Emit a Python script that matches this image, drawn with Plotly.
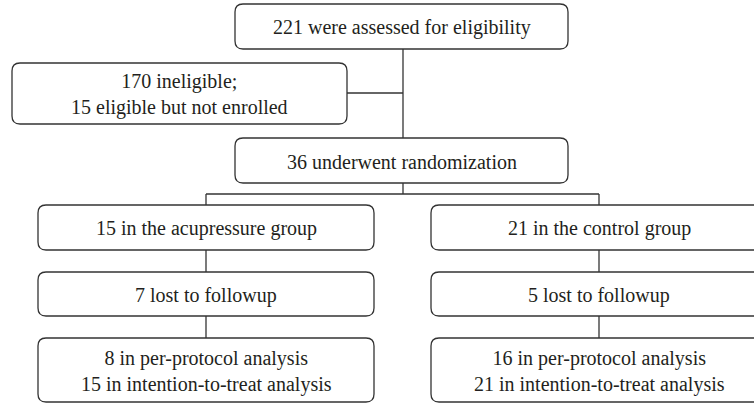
import plotly.graph_objects as go

# Flowchart content
box_labels = [
    "221 were assessed for eligibility",
    "170 ineligible;<br>15 eligible but not enrolled",
    "36 underwent randomization",
    "15 in the acupressure group",
    "21 in the control group",
    "7 lost to followup",
    "5 lost to followup",
    "8 in per-protocol analysis<br>15 in intention-to-treat analysis",
    "16 in per-protocol analysis<br>21 in intention-to-treat analysis",
]

# Box geometry (x0, x1, y0, y1) in pixel-like data coordinates
box_geom = [
    (235, 568, 4, 49),
    (12, 347, 63, 124),
    (235, 568, 138, 183),
    (38, 374, 205, 250),
    (431, 767, 205, 250),
    (38, 374, 272, 316),
    (431, 767, 272, 316),
    (38, 374, 338, 402),
    (431, 767, 338, 402),
]

# Connectors (x0, y0, x1, y1)
connectors = [
    (403, 49, 403, 138),
    (347, 93, 403, 93),
    (403, 183, 403, 194),
    (206, 194, 599, 194),
    (206, 194, 206, 205),
    (599, 194, 599, 205),
    (206, 250, 206, 272),
    (599, 250, 599, 272),
    (206, 316, 206, 338),
    (599, 316, 599, 338),
]

LINE = "#333333"
R = 8


def rounded(x0, x1, y0, y1, r=R):
    return (f"M {x0+r},{y0} L {x1-r},{y0} Q {x1},{y0} {x1},{y0+r} "
            f"L {x1},{y1-r} Q {x1},{y1} {x1-r},{y1} L {x0+r},{y1} "
            f"Q {x0},{y1} {x0},{y1-r} L {x0},{y0+r} Q {x0},{y0} {x0+r},{y0} Z")


shapes = []
for (x0, y0, x1, y1) in connectors:
    shapes.append(dict(type="line", xref="x", yref="y", x0=x0, y0=y0, x1=x1, y1=y1,
                       line=dict(color=LINE, width=1.3), layer="above"))
for (x0, x1, y0, y1) in box_geom:
    shapes.append(dict(type="path", xref="x", yref="y", path=rounded(x0, x1, y0, y1),
                       line=dict(color=LINE, width=1.3), fillcolor="rgba(0,0,0,0)", layer="above"))

annotations = []
for label, (x0, x1, y0, y1) in zip(box_labels, box_geom):
    cx = (x0 + x1) / 2
    if x1 > 754:
        cx = 599
    annotations.append(dict(x=cx, y=(y0 + y1) / 2 + 1, xref="x", yref="y", text=label,
                            showarrow=False, xanchor="center", yanchor="middle",
                            font=dict(family="Liberation Serif", size=20, color="#231f20")))

fig = go.Figure()
fig.add_trace(go.Scatter(x=[0], y=[0], mode="markers", marker=dict(opacity=0), hoverinfo="skip",
                         showlegend=False))
fig.update_layout(
    width=754, height=404,
    margin=dict(l=0, r=0, t=0, b=0),
    paper_bgcolor="white", plot_bgcolor="white",
    xaxis=dict(range=[0, 754], visible=False, fixedrange=True),
    yaxis=dict(range=[404, 0], visible=False, fixedrange=True),
    shapes=shapes, annotations=annotations, showlegend=False,
)
fig.write_html("out.html", config={"displayModeBar": False},
               post_script="document.body.style.margin='0';document.body.style.overflow='hidden';")
